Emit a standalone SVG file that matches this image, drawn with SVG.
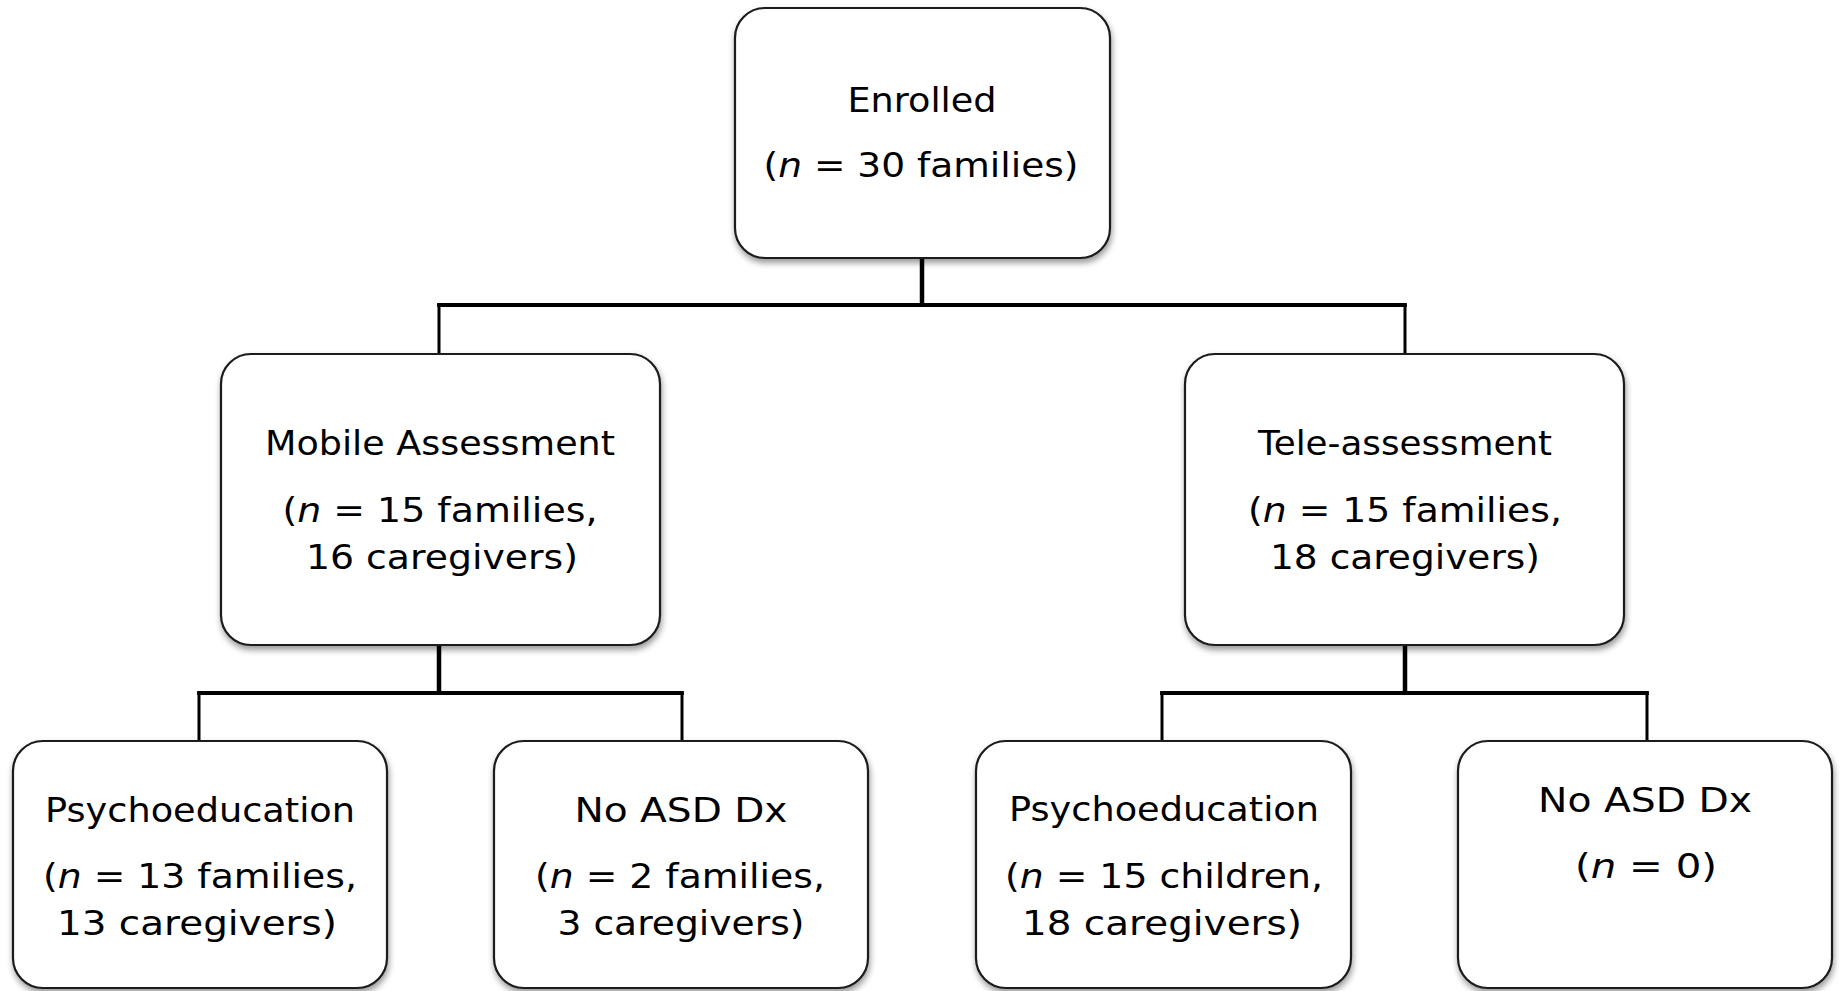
<svg xmlns="http://www.w3.org/2000/svg" width="1843" height="991" viewBox="0 0 1843 991">
<defs>
<filter id="sh" x="-10%" y="-10%" width="120%" height="125%">
<feDropShadow dx="1" dy="4" stdDeviation="3" flood-color="#000" flood-opacity="0.4"/>
</filter>
<style>
.box{fill:#fff;stroke:#1a1a1a;stroke-width:2.2;filter:url(#sh)}
.t{font-family:"DejaVu Sans","Liberation Sans",sans-serif;font-size:34px;fill:#000;text-anchor:middle}
.i{font-style:italic}
.stem{stroke:#000;stroke-width:4.5;fill:none}
.bar{stroke:#000;stroke-width:3.8;fill:none;stroke-linecap:square}
.drop{stroke:#000;stroke-width:3;fill:none}
</style>
</defs>
<rect width="1843" height="991" fill="#fff"/>
<g id="connectors">
<line class="stem" x1="922" y1="258" x2="922" y2="306"/>
<line class="bar" x1="439" y1="305" x2="1405" y2="305"/>
<line class="drop" x1="439" y1="305" x2="439" y2="354"/>
<line class="drop" x1="1405" y1="305" x2="1405" y2="354"/>
<line class="stem" x1="439" y1="645" x2="439" y2="694"/>
<line class="bar" x1="199" y1="693" x2="682" y2="693"/>
<line class="drop" x1="199" y1="693" x2="199" y2="741"/>
<line class="drop" x1="682" y1="693" x2="682" y2="741"/>
<line class="stem" x1="1405" y1="645" x2="1405" y2="694"/>
<line class="bar" x1="1162" y1="693" x2="1647" y2="693"/>
<line class="drop" x1="1162" y1="693" x2="1162" y2="741"/>
<line class="drop" x1="1647" y1="693" x2="1647" y2="741"/>
</g>
<g id="enrolled">
<rect class="box" x="735" y="8" width="375" height="250" rx="30"/>
<text class="t" x="922" y="112" textLength="149" lengthAdjust="spacingAndGlyphs">Enrolled</text>
<text class="t" x="921" y="177" textLength="315" lengthAdjust="spacingAndGlyphs">(<tspan class="i">n</tspan> = 30 families)</text>
</g>
<g id="mobile">
<rect class="box" x="221" y="354" width="439" height="291" rx="30"/>
<text class="t" x="440" y="455" textLength="350" lengthAdjust="spacingAndGlyphs">Mobile Assessment</text>
<text class="t" x="440" y="522" textLength="315" lengthAdjust="spacingAndGlyphs">(<tspan class="i">n</tspan> = 15 families,</text>
<text class="t" x="442" y="569" textLength="272" lengthAdjust="spacingAndGlyphs">16 caregivers)</text>
</g>
<g id="tele">
<rect class="box" x="1185" y="354" width="439" height="291" rx="30"/>
<text class="t" x="1405" y="455" textLength="294" lengthAdjust="spacingAndGlyphs">Tele-assessment</text>
<text class="t" x="1405" y="522" textLength="314" lengthAdjust="spacingAndGlyphs">(<tspan class="i">n</tspan> = 15 families,</text>
<text class="t" x="1405" y="569" textLength="270" lengthAdjust="spacingAndGlyphs">18 caregivers)</text>
</g>
<g id="psycho-mobile">
<rect class="box" x="13" y="741" width="374" height="247" rx="30"/>
<text class="t" x="200" y="822" textLength="310" lengthAdjust="spacingAndGlyphs">Psychoeducation</text>
<text class="t" x="200" y="888" textLength="314" lengthAdjust="spacingAndGlyphs">(<tspan class="i">n</tspan> = 13 families,</text>
<text class="t" x="197" y="935" textLength="280" lengthAdjust="spacingAndGlyphs">13 caregivers)</text>
</g>
<g id="noasd-mobile">
<rect class="box" x="494" y="741" width="374" height="247" rx="30"/>
<text class="t" x="681" y="822" textLength="213" lengthAdjust="spacingAndGlyphs">No ASD Dx</text>
<text class="t" x="680" y="888" textLength="290" lengthAdjust="spacingAndGlyphs">(<tspan class="i">n</tspan> = 2 families,</text>
<text class="t" x="681" y="935" textLength="247" lengthAdjust="spacingAndGlyphs">3 caregivers)</text>
</g>
<g id="psycho-tele">
<rect class="box" x="976" y="741" width="375" height="247" rx="30"/>
<text class="t" x="1164" y="821" textLength="310" lengthAdjust="spacingAndGlyphs">Psychoeducation</text>
<text class="t" x="1164" y="888" textLength="318" lengthAdjust="spacingAndGlyphs">(<tspan class="i">n</tspan> = 15 children,</text>
<text class="t" x="1162" y="935" textLength="280" lengthAdjust="spacingAndGlyphs">18 caregivers)</text>
</g>
<g id="noasd-tele">
<rect class="box" x="1458" y="741" width="374" height="247" rx="30"/>
<text class="t" x="1645" y="812" textLength="214" lengthAdjust="spacingAndGlyphs">No ASD Dx</text>
<text class="t" x="1646" y="878" textLength="142" lengthAdjust="spacingAndGlyphs">(<tspan class="i">n</tspan> = 0)</text>
</g>
</svg>
